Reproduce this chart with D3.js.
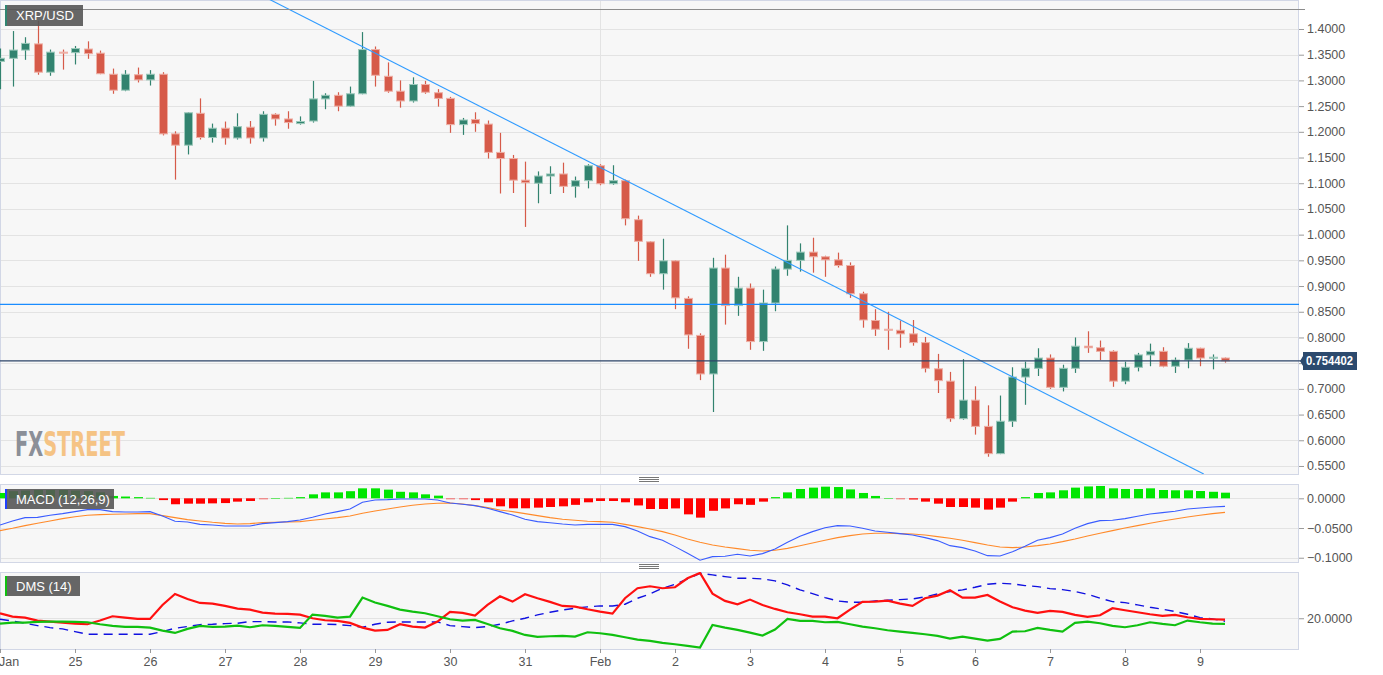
<!DOCTYPE html>
<html><head><meta charset="utf-8">
<script src="https://cdn.jsdelivr.net/npm/d3@7"></script>
<style>
html,body{margin:0;padding:0;background:#fff;}
svg{display:block;font-family:"Liberation Sans",Arial,sans-serif;}
</style></head>
<body><svg id="c" width="1383" height="675"></svg>
<script>
// ---------- DATA ----------
const symbol = "XRP/USD";
const dayLabels = ["24 Jan","25","26","27","28","29","30","31","Feb","2","3","4","5","6","7","8","9"];
const candlesPerDay = 6;
const open  = [1.337,1.343,1.359,1.371,1.316,1.355,1.354,1.361,1.353,1.312,1.281,1.311,1.301,1.312,1.196,1.174,1.236,1.189,1.207,1.188,1.209,1.188,1.234,1.225,1.216,1.221,1.264,1.271,1.250,1.274,1.360,1.308,1.279,1.260,1.292,1.276,1.265,1.214,1.224,1.215,1.160,1.148,1.106,1.100,1.114,1.118,1.094,1.105,1.134,1.099,1.105,1.029,0.986,0.924,0.949,0.876,0.804,0.729,0.935,0.862,0.896,0.792,0.867,0.933,0.950,0.966,0.957,0.951,0.940,0.885,0.833,0.816,0.814,0.807,0.790,0.739,0.715,0.642,0.678,0.627,0.574,0.637,0.723,0.740,0.760,0.703,0.740,0.783,0.780,0.773,0.715,0.742,0.766,0.773,0.744,0.756,0.779,0.760,0.760];
const high  = [1.362,1.396,1.384,1.416,1.360,1.360,1.367,1.376,1.358,1.323,1.320,1.325,1.320,1.316,1.201,1.238,1.265,1.216,1.220,1.236,1.221,1.240,1.236,1.240,1.230,1.299,1.275,1.277,1.288,1.394,1.366,1.335,1.300,1.306,1.299,1.283,1.268,1.227,1.238,1.222,1.198,1.155,1.142,1.123,1.133,1.140,1.113,1.137,1.137,1.135,1.107,1.037,0.987,0.992,0.950,0.880,0.808,0.955,0.961,0.918,0.905,0.893,0.938,1.018,0.983,0.994,0.959,0.965,0.946,0.889,0.855,0.850,0.833,0.834,0.801,0.768,0.733,0.758,0.705,0.668,0.687,0.742,0.753,0.779,0.767,0.747,0.800,0.812,0.794,0.775,0.753,0.770,0.788,0.781,0.761,0.789,0.780,0.767,0.761];
const low   = [1.283,1.288,1.340,1.311,1.309,1.321,1.331,1.342,1.312,1.274,1.279,1.296,1.290,1.193,1.107,1.156,1.185,1.179,1.175,1.185,1.177,1.181,1.212,1.206,1.214,1.218,1.244,1.240,1.249,1.273,1.288,1.276,1.247,1.257,1.274,1.249,1.198,1.194,1.200,1.148,1.080,1.081,1.015,1.061,1.079,1.081,1.072,1.090,1.096,1.097,1.018,0.949,0.918,0.893,0.855,0.778,0.717,0.655,0.825,0.842,0.776,0.774,0.851,0.920,0.928,0.926,0.918,0.936,0.877,0.819,0.803,0.776,0.780,0.784,0.732,0.692,0.636,0.640,0.611,0.568,0.573,0.626,0.669,0.725,0.700,0.695,0.731,0.770,0.756,0.704,0.709,0.734,0.744,0.742,0.731,0.740,0.744,0.738,0.751];
const close = [1.343,1.359,1.372,1.316,1.355,1.354,1.362,1.352,1.313,1.281,1.312,1.301,1.312,1.196,1.174,1.237,1.189,1.207,1.188,1.210,1.188,1.234,1.225,1.218,1.220,1.264,1.271,1.250,1.274,1.360,1.310,1.279,1.260,1.292,1.277,1.265,1.214,1.223,1.216,1.160,1.148,1.106,1.101,1.114,1.118,1.094,1.105,1.134,1.099,1.105,1.031,0.987,0.924,0.949,0.877,0.805,0.729,0.935,0.862,0.896,0.792,0.867,0.933,0.950,0.966,0.957,0.951,0.940,0.885,0.834,0.816,0.815,0.807,0.790,0.740,0.716,0.642,0.678,0.627,0.574,0.637,0.723,0.740,0.760,0.703,0.740,0.783,0.780,0.773,0.715,0.742,0.766,0.773,0.744,0.756,0.779,0.760,0.7615,0.754402];
const priceTicks = [0.55,0.60,0.65,0.70,0.75,0.80,0.85,0.90,0.95,1.00,1.05,1.10,1.15,1.20,1.25,1.30,1.35,1.40];
const lastPrice = 0.754402;
const resistanceLevel = 0.8645;
const topLevel = 1.4383;
const trendStart = {idx:21.2, price:1.462};
const trendEnd   = {idx:96.3, price:0.5344};

const macdLine = [-0.0449,-0.0381,-0.0325,-0.0320,-0.0286,-0.0258,-0.0224,-0.0191,-0.0191,-0.0224,-0.0230,-0.0230,-0.0224,-0.0297,-0.0387,-0.0398,-0.0438,-0.0449,-0.0466,-0.0466,-0.0466,-0.0426,-0.0410,-0.0393,-0.0365,-0.0320,-0.0264,-0.0224,-0.0180,-0.0067,-0.0028,-0.0022,-0.0011,-0.0011,-0.0011,-0.0028,-0.0079,-0.0101,-0.0123,-0.0168,-0.0224,-0.0281,-0.0353,-0.0393,-0.0410,-0.0432,-0.0449,-0.0438,-0.0438,-0.0438,-0.0477,-0.0550,-0.0645,-0.0707,-0.0813,-0.0926,-0.1043,-0.0982,-0.0976,-0.0942,-0.0971,-0.0931,-0.0853,-0.0741,-0.0640,-0.0561,-0.0494,-0.0460,-0.0466,-0.0505,-0.0550,-0.0572,-0.0595,-0.0617,-0.0662,-0.0712,-0.0797,-0.0830,-0.0886,-0.0965,-0.0971,-0.0898,-0.0808,-0.0707,-0.0662,-0.0600,-0.0505,-0.0426,-0.0376,-0.0370,-0.0342,-0.0303,-0.0264,-0.0241,-0.0219,-0.0180,-0.0163,-0.0146,-0.0135];
const macdSignal = [-0.0544,-0.0505,-0.0460,-0.0421,-0.0381,-0.0342,-0.0309,-0.0286,-0.0275,-0.0269,-0.0264,-0.0258,-0.0258,-0.0292,-0.0325,-0.0359,-0.0381,-0.0404,-0.0421,-0.0432,-0.0426,-0.0410,-0.0404,-0.0398,-0.0393,-0.0370,-0.0348,-0.0325,-0.0297,-0.0252,-0.0213,-0.0180,-0.0146,-0.0118,-0.0095,-0.0084,-0.0079,-0.0095,-0.0123,-0.0157,-0.0196,-0.0224,-0.0258,-0.0292,-0.0325,-0.0353,-0.0370,-0.0387,-0.0393,-0.0404,-0.0438,-0.0477,-0.0516,-0.0561,-0.0617,-0.0684,-0.0741,-0.0785,-0.0819,-0.0847,-0.0875,-0.0886,-0.0875,-0.0842,-0.0797,-0.0752,-0.0707,-0.0662,-0.0628,-0.0600,-0.0589,-0.0589,-0.0595,-0.0600,-0.0617,-0.0645,-0.0673,-0.0707,-0.0746,-0.0785,-0.0819,-0.0830,-0.0819,-0.0797,-0.0769,-0.0729,-0.0684,-0.0634,-0.0589,-0.0544,-0.0499,-0.0460,-0.0421,-0.0381,-0.0348,-0.0314,-0.0286,-0.0258,-0.0236];
const macdHist = [0.009,0.012,0.013,0.014,0.014,0.014,0.013,0.012,0.010,0.004,0.003,0.002,0.001,-0.003,-0.010,-0.009,-0.009,-0.0085,-0.008,-0.0056,-0.0045,-0.001,0.0005,0.001,0.002,0.0067,0.010,0.010,0.012,0.0168,0.0168,0.0146,0.011,0.010,0.0067,0.0045,-0.0005,-0.001,-0.003,-0.0067,-0.0135,-0.0168,-0.0168,-0.0157,-0.0146,-0.0135,-0.011,-0.0067,-0.0045,-0.0045,-0.0067,-0.012,-0.018,-0.018,-0.017,-0.027,-0.0325,-0.021,-0.017,-0.010,-0.011,-0.0056,0.002,0.010,0.0157,0.018,0.0196,0.019,0.015,0.009,0.004,0.0005,-0.0005,-0.002,-0.0056,-0.009,-0.0146,-0.0146,-0.0157,-0.019,-0.0157,-0.0056,0.002,0.009,0.010,0.0135,0.018,0.020,0.0208,0.0168,0.0157,0.0157,0.0168,0.014,0.0135,0.0135,0.0123,0.011,0.0095];
const macdTicks = [0, -0.05, -0.1];

const diMinus = [22.0,20.67,20.27,19.07,18.67,18.27,17.87,17.6,19.07,20.8,20.27,19.73,19.73,25.33,29.73,27.73,26.13,25.87,24.93,23.87,23.47,22.27,21.87,21.73,21.47,20.0,19.2,18.93,18.13,16.27,15.07,15.33,17.6,16.67,16.27,18.67,22.53,22.13,21.07,25.33,28.8,26.67,29.6,28.0,26.53,24.93,24.67,23.6,22.67,21.87,28.0,32.0,32.8,32.0,32.4,36.0,38.13,29.87,26.93,25.6,27.47,25.33,23.73,22.4,21.6,20.67,20.67,20.0,23.47,26.53,26.67,27.07,25.87,24.93,28.0,29.07,31.2,28.27,28.27,29.33,26.67,24.4,23.07,22.13,22.93,22.53,21.33,20.53,21.2,24.0,23.2,22.4,21.6,20.93,21.33,20.4,19.73,19.6,19.47];
const diPlus = [17.87,18.27,18.27,18.53,18.67,18.67,18.53,18.4,17.6,16.93,16.53,16.53,16.27,15.07,14.13,15.73,16.93,16.53,16.67,17.07,16.4,17.2,16.93,16.53,16.13,21.47,20.93,20.27,20.67,28.27,26.27,24.93,23.47,22.67,22.0,20.8,19.6,19.07,19.33,17.73,16.0,14.93,13.33,12.53,12.8,12.93,12.67,14.4,14.0,13.33,12.4,11.47,10.93,10.13,9.6,8.93,8.27,17.33,16.27,15.33,14.27,13.07,15.47,19.73,18.93,18.93,18.4,18.53,17.6,16.67,16.0,15.2,14.67,14.13,13.6,12.93,11.87,12.67,11.87,11.07,11.73,14.67,14.8,16.13,15.33,14.67,18.13,18.67,18.0,16.93,16.4,17.2,18.4,17.73,17.2,19.07,18.4,17.87,17.73];
const adx = [19.6,18.93,18.0,17.07,16.27,15.73,14.67,13.6,13.6,13.6,13.6,13.6,13.6,14.67,16.0,16.67,17.47,17.6,17.87,18.0,18.67,18.67,18.53,18.53,18.13,17.6,17.6,17.47,17.07,16.4,17.6,18.4,18.53,18.53,18.53,18.53,17.07,16.67,16.27,16.67,17.6,18.93,20.0,21.33,22.4,23.33,24.0,24.53,24.93,24.93,25.6,28.0,29.73,32.0,33.6,35.73,38.0,37.33,36.67,36.0,36.0,35.73,34.93,33.33,31.33,29.87,28.27,26.93,26.4,26.4,26.93,27.2,27.47,27.73,28.53,29.73,30.67,31.33,32.4,33.6,34.0,33.73,33.07,32.67,31.87,31.47,30.67,29.6,28.0,26.67,26.27,25.33,24.4,23.6,22.67,21.6,20.27,19.73,18.8];
const dmsTicks = [20];

// ---------- LAYOUT ----------
const svg = d3.select("#c");
const plotL = 0, plotR = 1299;
const main = {t:0, b:474}, macdP = {t:484, b:562}, dmsP = {t:572, b:649};
const UP = "#32836f", UP_B = "#9cc9bb", DN = "#d65a49", DN_B = "#eeb0a6";
const GRID = "#e3e3e3", FRAME = "#d2d7e6", TXT = "#555";

const n = close.length;
const x = d3.scaleLinear().domain([0, 1299/12.5]).range([plotL, plotR]);
const yMain = d3.scaleLinear().domain([0.5344, 1.4564]).range([main.b, main.t]);
const yMacd = d3.scaleLinear().domain([-0.1072, 0.0241]).range([macdP.b, macdP.t]);
const yDms = d3.scaleLinear().domain([7.7, 38.5]).range([dmsP.b, dmsP.t]);

svg.append("rect").attr("width",1383).attr("height",675).attr("fill","#fff");

const defs = svg.append("defs");
[["clipMain",main],["clipMacd",macdP],["clipDms",dmsP]].forEach(([id,p])=>{
  defs.append("clipPath").attr("id",id).append("rect")
    .attr("x",plotL).attr("y",p.t).attr("width",plotR-plotL).attr("height",p.b-p.t);
});

function panelBg(p){
  svg.append("rect").attr("x",plotL+0.5).attr("y",p.t+0.5).attr("width",plotR-plotL-1).attr("height",p.b-p.t)
    .attr("fill","#f7f7f7").attr("stroke",FRAME).attr("stroke-width",1);
}
panelBg(main); panelBg(macdP); panelBg(dmsP);

const dayIdx = dayLabels.map((d,i)=>i*candlesPerDay);
const febIdx = dayIdx[dayLabels.indexOf("Feb")];

// gridlines
function hGrid(p, scale, ticks){
  svg.append("g").selectAll("line").data(ticks).join("line")
    .attr("x1",plotL+1).attr("x2",plotR-1)
    .attr("y1",d=>Math.round(scale(d))+0.5).attr("y2",d=>Math.round(scale(d))+0.5)
    .attr("stroke",GRID).attr("stroke-width",1);
  svg.append("line").attr("x1",Math.round(x(febIdx))+0.5).attr("x2",Math.round(x(febIdx))+0.5)
    .attr("y1",p.t+1).attr("y2",p.b).attr("stroke",GRID);
}
hGrid(main, yMain, priceTicks);
hGrid(macdP, yMacd, macdTicks);
hGrid(dmsP, yDms, dmsTicks);

// watermark
const wm = svg.append("text").attr("x",15).attr("y",455.5)
  .attr("font-family","'Liberation Sans Narrow','DejaVu Sans Condensed',sans-serif").attr("font-weight","bold").attr("font-size",34)
  .attr("textLength",110).attr("lengthAdjust","spacingAndGlyphs");
wm.append("tspan").attr("fill","#8b8f98").text("FX");
wm.append("tspan").attr("fill","#f5c384").text("STREET");

// ---------- MAIN PANEL ----------
const gMain = svg.append("g").attr("clip-path","url(#clipMain)");
svg.append("line").attr("x1",plotL).attr("x2",1305).attr("y1",Math.round(yMain(topLevel))+0.5).attr("y2",Math.round(yMain(topLevel))+0.5)
  .attr("stroke","#8c8c8c").attr("stroke-width",1);

const candles = d3.range(n).map(i=>({i,o:open[i],h:high[i],l:low[i],c:close[i]}));
const cg = gMain.append("g");
cg.selectAll("line.w").data(candles).join("line").attr("class","w")
  .attr("x1",d=>Math.round(x(d.i))+0.5).attr("x2",d=>Math.round(x(d.i))+0.5)
  .attr("y1",d=>yMain(d.h)).attr("y2",d=>yMain(d.l))
  .attr("stroke",d=>d.c>=d.o?UP:DN).attr("stroke-width",1.2);
cg.selectAll("rect.b").data(candles).join("rect").attr("class","b")
  .attr("x",d=>Math.round(x(d.i))-3.5).attr("width",8)
  .attr("y",d=>yMain(Math.max(d.o,d.c)))
  .attr("height",d=>Math.max(1,Math.abs(yMain(d.o)-yMain(d.c))))
  .attr("fill",d=>d.c>=d.o?UP:DN)
  .attr("stroke",d=>d.c>=d.o?UP_B:DN_B).attr("stroke-width",1);

gMain.append("line").attr("x1",x(trendStart.idx)).attr("y1",yMain(trendStart.price))
  .attr("x2",x(trendEnd.idx)).attr("y2",yMain(trendEnd.price))
  .attr("stroke","#2f9bff").attr("stroke-width",1.1);
svg.append("line").attr("x1",plotL).attr("x2",plotR).attr("y1",yMain(resistanceLevel)).attr("y2",yMain(resistanceLevel))
  .attr("stroke","#1a8cff").attr("stroke-width",1.3);
svg.append("line").attr("x1",plotL).attr("x2",plotR+2).attr("y1",yMain(lastPrice)).attr("y2",yMain(lastPrice))
  .attr("stroke","#2c4568").attr("stroke-width",1.3);

const yl = yMain(lastPrice);
function rightAxis(scale, ticks, hideNear){
  const g = svg.append("g").attr("transform",`translate(${plotR},0)`)
    .call(d3.axisRight(scale).tickValues(ticks).tickFormat(d3.format(".4f")).tickSize(5).tickPadding(3));
  g.select(".domain").remove();
  g.selectAll(".tick line").attr("stroke","#9a9a9a");
  g.selectAll(".tick text").attr("fill",TXT).attr("font-size",12.5).attr("font-family","'Liberation Sans',Arial,sans-serif");
  if (hideNear !== undefined) {
    g.selectAll(".tick").filter(d=>Math.abs(scale(d)-hideNear)<13).select("text").remove();
  }
  return g;
}
rightAxis(yMain, priceTicks, yl);
rightAxis(yMacd, macdTicks);
rightAxis(yDms, dmsTicks);

// last price tag
svg.append("path").attr("d",`M${plotR+1},${yl} L${plotR+4},${yl-5} L${plotR+4},${yl-9} L1357,${yl-9} L1357,${yl+9} L${plotR+4},${yl+9} L${plotR+4},${yl+5} Z`)
  .attr("fill","#2c4a6e");
svg.append("text").attr("x",1306).attr("y",yl+4.5).attr("fill","#fff").attr("font-weight","bold").attr("font-size",12)
  .attr("textLength",47).attr("lengthAdjust","spacingAndGlyphs")
  .text(lastPrice.toFixed(6));

// ---------- MACD ----------
const gMacd = svg.append("g").attr("clip-path","url(#clipMacd)");
const hist = d3.range(n).map(i=>({i,v:macdHist[i]}));
gMacd.selectAll("rect").data(hist).join("rect")
  .attr("x",d=>Math.round(x(d.i))-4).attr("width",9)
  .attr("y",d=>Math.min(yMacd(0),yMacd(d.v)))
  .attr("height",d=>Math.max(1,Math.abs(yMacd(d.v)-yMacd(0))))
  .attr("fill",d=>d.v>=0?"#00e600":"#ff0000")
  .attr("opacity",d=>Math.abs(d.v)<0.0015?0.55:1);
const lineGen = sc => d3.line().x((d,i)=>x(i)).y(d=>sc(d));
gMacd.append("path").datum(macdSignal).attr("d",lineGen(yMacd)).attr("fill","none").attr("stroke","#ff8a2a").attr("stroke-width",1.1);
gMacd.append("path").datum(macdLine).attr("d",lineGen(yMacd)).attr("fill","none").attr("stroke","#3a5cff").attr("stroke-width",1.1);

// ---------- DMS ----------
const gDms = svg.append("g").attr("clip-path","url(#clipDms)");
gDms.append("path").datum(adx).attr("d",lineGen(yDms)).attr("fill","none").attr("stroke","#1010e0").attr("stroke-width",1.4).attr("stroke-dasharray","9,6");
gDms.append("path").datum(diMinus).attr("d",lineGen(yDms)).attr("fill","none").attr("stroke","#ff1010").attr("stroke-width",2.2);
gDms.append("path").datum(diPlus).attr("d",lineGen(yDms)).attr("fill","none").attr("stroke","#10c010").attr("stroke-width",2.2);

// x axis
const xa = svg.append("g").attr("transform",`translate(0,${dmsP.b})`)
  .call(d3.axisBottom(x).tickValues(dayIdx).tickFormat((d,i)=>dayLabels[i]).tickSize(4).tickPadding(4));
xa.select(".domain").remove();
xa.selectAll(".tick line").attr("stroke","#9a9a9a");
xa.selectAll(".tick text").attr("fill",TXT).attr("font-size",12.5).attr("font-family","'Liberation Sans',Arial,sans-serif");

// panel separators (handles)
[479.5, 566.5].forEach(y=>{
  [0,2,4].forEach(o=>svg.append("line").attr("x1",639).attr("x2",659).attr("y1",y+o-2).attr("y2",y+o-2).attr("stroke","#777").attr("stroke-width",1));
});

// labels
function tag(x0,y0,w,h,stripe,label){
  const g = svg.append("g");
  g.append("rect").attr("x",x0).attr("y",y0).attr("width",w).attr("height",h).attr("fill","#555").attr("opacity",0.9);
  g.append("rect").attr("x",x0).attr("y",y0).attr("width",2).attr("height",h).attr("fill",stripe);
  g.append("text").attr("x",x0+11).attr("y",y0+h/2+4.5).attr("fill","#fff").attr("font-size",13).text(label);
}
tag(5,5,78,21,"#2f8571",symbol);
tag(5,489,109,20,"#2040ff","MACD (12,26,9)");
tag(5,576,75,20,"#10c010","DMS (14)");
</script></body></html>
